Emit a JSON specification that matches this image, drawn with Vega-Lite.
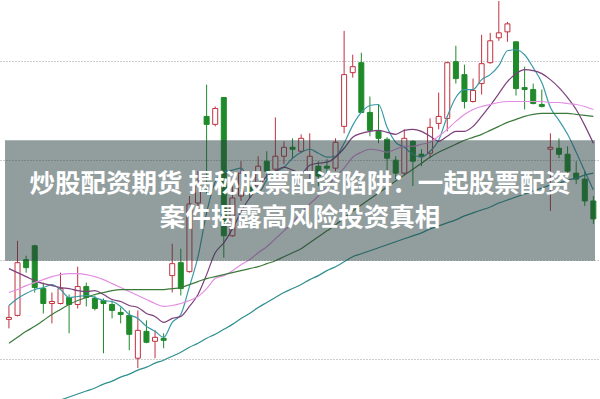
{
  "$schema": "https://vega.github.io/schema/vega-lite/v6.json",
  "width": 600,
  "height": 399,
  "padding": 0,
  "autosize": {"type": "fit", "contains": "padding"},
  "background": "white",
  "config": {"view": {"stroke": null}},
  "datasets": {
    "rows": [
      {"d":0,"o":9.40,"c":9.42,"h":9.54,"l":9.31,"ma5":9.54,"ma10":9.91,"ma20":9.67,"ma30":9.16},
      {"d":1,"o":9.44,"c":9.97,"h":10.19,"l":9.43,"ma5":9.61,"ma10":9.87,"ma20":9.70,"ma30":9.22},
      {"d":2,"o":10.00,"c":9.92,"h":10.04,"l":9.87,"ma5":9.66,"ma10":9.83,"ma20":9.74,"ma30":9.28},
      {"d":3,"o":10.14,"c":9.72,"h":10.15,"l":9.67,"ma5":9.70,"ma10":9.79,"ma20":9.77,"ma30":9.33},
      {"d":4,"o":9.71,"c":9.56,"h":9.77,"l":9.46,"ma5":9.72,"ma10":9.76,"ma20":9.80,"ma30":9.39},
      {"d":5,"o":9.56,"c":9.58,"h":9.67,"l":9.36,"ma5":9.75,"ma10":9.74,"ma20":9.83,"ma30":9.45,"ma60":8.56},
      {"d":6,"o":9.56,"c":9.71,"h":9.87,"l":9.55,"ma5":9.70,"ma10":9.72,"ma20":9.85,"ma30":9.50,"ma60":8.59},
      {"d":7,"o":9.62,"c":9.55,"h":9.65,"l":9.26,"ma5":9.62,"ma10":9.71,"ma20":9.86,"ma30":9.55,"ma60":8.62},
      {"d":8,"o":9.55,"c":9.73,"h":9.93,"l":9.51,"ma5":9.63,"ma10":9.69,"ma20":9.86,"ma30":9.59,"ma60":8.65},
      {"d":9,"o":9.73,"c":9.62,"h":9.77,"l":9.53,"ma5":9.64,"ma10":9.68,"ma20":9.85,"ma30":9.62,"ma60":8.68},
      {"d":10,"o":9.61,"c":9.51,"h":9.64,"l":9.49,"ma5":9.62,"ma10":9.69,"ma20":9.83,"ma30":9.65,"ma60":8.71},
      {"d":11,"o":9.59,"c":9.56,"h":9.61,"l":9.06,"ma5":9.59,"ma10":9.65,"ma20":9.80,"ma30":9.67,"ma60":8.75},
      {"d":12,"o":9.55,"c":9.49,"h":9.59,"l":9.41,"ma5":9.58,"ma10":9.60,"ma20":9.76,"ma30":9.69,"ma60":8.78},
      {"d":13,"o":9.47,"c":9.45,"h":9.52,"l":9.36,"ma5":9.53,"ma10":9.58,"ma20":9.72,"ma30":9.70,"ma60":8.82},
      {"d":14,"o":9.44,"c":9.25,"h":9.49,"l":9.09,"ma5":9.45,"ma10":9.54,"ma20":9.68,"ma30":9.70,"ma60":8.85},
      {"d":15,"o":9.01,"c":9.29,"h":9.49,"l":8.91,"ma5":9.41,"ma10":9.52,"ma20":9.64,"ma30":9.70,"ma60":8.89},
      {"d":16,"o":9.28,"c":9.17,"h":9.39,"l":9.16,"ma5":9.33,"ma10":9.46,"ma20":9.60,"ma30":9.70,"ma60":8.92},
      {"d":17,"o":9.18,"c":9.22,"h":9.29,"l":9.01,"ma5":9.28,"ma10":9.43,"ma20":9.56,"ma30":9.70,"ma60":8.96},
      {"d":18,"o":9.21,"c":9.19,"h":9.26,"l":9.11,"ma5":9.22,"ma10":9.37,"ma20":9.53,"ma30":9.70,"ma60":8.99},
      {"d":19,"o":9.84,"c":9.96,"h":10.16,"l":9.67,"ma5":9.37,"ma10":9.41,"ma20":9.54,"ma30":9.71,"ma60":9.03},
      {"d":20,"o":9.97,"c":9.71,"h":10.11,"l":9.64,"ma5":9.45,"ma10":9.43,"ma20":9.56,"ma30":9.72,"ma60":9.07},
      {"d":21,"o":9.88,"c":10.56,"h":10.64,"l":9.87,"ma5":9.73,"ma10":9.53,"ma20":9.59,"ma30":9.75,"ma60":9.12},
      {"d":22,"o":10.57,"c":10.74,"h":10.89,"l":10.49,"ma5":10.03,"ma10":9.65,"ma20":9.63,"ma30":9.78,"ma60":9.16},
      {"d":23,"o":11.44,"c":11.36,"h":11.76,"l":10.66,"ma5":10.47,"ma10":9.85,"ma20":9.71,"ma30":9.81,"ma60":9.21},
      {"d":24,"o":11.36,"c":11.52,"h":11.54,"l":11.34,"ma5":10.78,"ma10":10.07,"ma20":9.81,"ma30":9.83,"ma60":9.25},
      {"d":25,"o":11.63,"c":10.24,"h":11.63,"l":10.02,"ma5":10.88,"ma10":10.17,"ma20":9.84,"ma30":9.85,"ma60":9.30},
      {"d":26,"o":10.24,"c":10.62,"h":10.74,"l":10.23,"ma5":10.90,"ma10":10.31,"ma20":9.89,"ma30":9.87,"ma60":9.35},
      {"d":27,"o":10.64,"c":10.87,"h":10.99,"l":10.59,"ma5":10.92,"ma10":10.48,"ma20":9.95,"ma30":9.89,"ma60":9.41},
      {"d":28,"o":10.73,"c":10.67,"h":10.79,"l":10.61,"ma5":10.78,"ma10":10.62,"ma20":10.00,"ma30":9.91,"ma60":9.46},
      {"d":29,"o":10.74,"c":10.94,"h":11.04,"l":10.69,"ma5":10.67,"ma10":10.72,"ma20":10.07,"ma30":9.93,"ma60":9.52},
      {"d":30,"o":10.99,"c":10.89,"h":11.09,"l":10.81,"ma5":10.80,"ma10":10.84,"ma20":10.13,"ma30":9.96,"ma60":9.57},
      {"d":31,"o":10.91,"c":11.04,"h":11.43,"l":10.86,"ma5":10.88,"ma10":10.89,"ma20":10.21,"ma30":9.99,"ma60":9.62},
      {"d":32,"o":11.04,"c":11.13,"h":11.19,"l":10.96,"ma5":10.93,"ma10":10.93,"ma20":10.29,"ma30":10.03,"ma60":9.67},
      {"d":33,"o":11.13,"c":11.11,"h":11.22,"l":11.02,"ma5":11.02,"ma10":10.90,"ma20":10.37,"ma30":10.07,"ma60":9.71},
      {"d":34,"o":11.09,"c":11.22,"h":11.26,"l":11.07,"ma5":11.08,"ma10":10.87,"ma20":10.47,"ma30":10.11,"ma60":9.75},
      {"d":35,"o":10.87,"c":11.04,"h":11.27,"l":10.81,"ma5":11.11,"ma10":10.95,"ma20":10.56,"ma30":10.17,"ma60":9.80},
      {"d":36,"o":10.94,"c":10.84,"h":10.99,"l":10.74,"ma5":11.07,"ma10":10.97,"ma20":10.64,"ma30":10.23,"ma60":9.84},
      {"d":37,"o":10.94,"c":10.92,"h":11.01,"l":10.84,"ma5":11.03,"ma10":10.98,"ma20":10.73,"ma30":10.29,"ma60":9.89},
      {"d":38,"o":10.92,"c":11.18,"h":11.22,"l":10.89,"ma5":11.04,"ma10":11.03,"ma20":10.83,"ma30":10.35,"ma60":9.93},
      {"d":39,"o":11.34,"c":11.86,"h":12.30,"l":11.27,"ma5":11.17,"ma10":11.12,"ma20":10.92,"ma30":10.42,"ma60":9.98},
      {"d":40,"o":11.88,"c":11.94,"h":12.06,"l":11.83,"ma5":11.35,"ma10":11.23,"ma20":11.03,"ma30":10.49,"ma60":10.03},
      {"d":41,"o":11.98,"c":11.48,"h":12.08,"l":11.48,"ma5":11.48,"ma10":11.27,"ma20":11.08,"ma30":10.55,"ma60":10.06},
      {"d":42,"o":11.48,"c":11.30,"h":11.64,"l":11.24,"ma5":11.55,"ma10":11.29,"ma20":11.11,"ma30":10.61,"ma60":10.09},
      {"d":43,"o":11.29,"c":11.22,"h":11.56,"l":11.17,"ma5":11.56,"ma10":11.30,"ma20":11.10,"ma30":10.67,"ma60":10.12},
      {"d":44,"o":11.21,"c":11.02,"h":11.23,"l":10.89,"ma5":11.33,"ma10":11.28,"ma20":11.08,"ma30":10.73,"ma60":10.15},
      {"d":45,"o":11.00,"c":10.87,"h":11.04,"l":10.81,"ma5":11.18,"ma10":11.26,"ma20":11.11,"ma30":10.79,"ma60":10.18},
      {"d":46,"o":10.87,"c":11.22,"h":11.31,"l":10.85,"ma5":11.13,"ma10":11.30,"ma20":11.14,"ma30":10.85,"ma60":10.21},
      {"d":47,"o":11.19,"c":10.99,"h":11.20,"l":10.74,"ma5":11.06,"ma10":11.31,"ma20":11.14,"ma30":10.91,"ma60":10.24},
      {"d":48,"o":11.06,"c":11.04,"h":11.11,"l":10.94,"ma5":11.03,"ma10":11.29,"ma20":11.16,"ma30":10.97,"ma60":10.27},
      {"d":49,"o":11.07,"c":11.33,"h":11.42,"l":11.02,"ma5":11.09,"ma10":11.24,"ma20":11.18,"ma30":11.03,"ma60":10.31},
      {"d":50,"o":11.37,"c":11.44,"h":11.68,"l":11.31,"ma5":11.20,"ma10":11.19,"ma20":11.24,"ma30":11.08,"ma60":10.34},
      {"d":51,"o":11.42,"c":11.98,"h":11.99,"l":11.29,"ma5":11.44,"ma10":11.24,"ma20":11.31,"ma30":11.12,"ma60":10.37},
      {"d":52,"o":11.99,"c":11.82,"h":12.15,"l":11.77,"ma5":11.63,"ma10":11.29,"ma20":11.39,"ma30":11.16,"ma60":10.40},
      {"d":53,"o":11.86,"c":11.59,"h":11.96,"l":11.52,"ma5":11.71,"ma10":11.29,"ma20":11.46,"ma30":11.20,"ma60":10.44},
      {"d":54,"o":11.59,"c":11.70,"h":11.82,"l":11.58,"ma5":11.71,"ma10":11.34,"ma20":11.51,"ma30":11.23,"ma60":10.47},
      {"d":55,"o":11.77,"c":11.97,"h":12.26,"l":11.66,"ma5":11.81,"ma10":11.44,"ma20":11.54,"ma30":11.26,"ma60":10.50},
      {"d":56,"o":11.98,"c":12.20,"h":12.28,"l":11.97,"ma5":11.86,"ma10":11.55,"ma20":11.56,"ma30":11.30,"ma60":10.53},
      {"d":57,"o":12.23,"c":12.28,"h":12.60,"l":12.20,"ma5":11.95,"ma10":11.67,"ma20":11.58,"ma30":11.34,"ma60":10.57},
      {"d":58,"o":12.29,"c":12.37,"h":12.39,"l":12.19,"ma5":12.10,"ma10":11.79,"ma20":11.59,"ma30":11.38,"ma60":10.60},
      {"d":59,"o":12.19,"c":11.72,"h":12.19,"l":11.65,"ma5":12.11,"ma10":11.87,"ma20":11.59,"ma30":11.41,"ma60":10.63},
      {"d":60,"o":11.73,"c":11.71,"h":11.94,"l":11.51,"ma5":12.06,"ma10":11.91,"ma20":11.59,"ma30":11.44,"ma60":10.66},
      {"d":61,"o":11.71,"c":11.57,"h":11.77,"l":11.56,"ma5":11.93,"ma10":11.90,"ma20":11.59,"ma30":11.46,"ma60":10.69},
      {"d":62,"o":11.56,"c":11.54,"h":11.71,"l":11.53,"ma5":11.78,"ma10":11.87,"ma20":11.59,"ma30":11.47,"ma60":10.72},
      {"d":63,"o":11.11,"c":11.13,"h":11.27,"l":10.49,"ma5":11.53,"ma10":11.81,"ma20":11.58,"ma30":11.47,"ma60":10.75},
      {"d":64,"o":11.12,"c":11.06,"h":11.22,"l":11.02,"ma5":11.40,"ma10":11.73,"ma20":11.58,"ma30":11.47,"ma60":10.77},
      {"d":65,"o":11.06,"c":10.89,"h":11.14,"l":10.84,"ma5":11.26,"ma10":11.63,"ma20":11.57,"ma30":11.47,"ma60":10.80},
      {"d":66,"o":10.87,"c":10.81,"h":10.99,"l":10.76,"ma5":11.08,"ma10":11.51,"ma20":11.56,"ma30":11.46,"ma60":10.82},
      {"d":67,"o":10.81,"c":10.59,"h":10.89,"l":10.54,"ma5":10.89,"ma10":11.35,"ma20":11.54,"ma30":11.45,"ma60":10.85},
      {"d":68,"o":10.59,"c":10.41,"h":10.64,"l":10.36,"ma5":10.70,"ma10":11.17,"ma20":11.51,"ma30":11.44,"ma60":10.87}
    ]
  },
  "data": {"name": "rows"},
  "layer": [
    {
      "mark": {"type": "rule", "strokeWidth": 1},
      "encoding": {
        "x": {"field": "d", "type": "quantitative", "scale": {"domain": [-0.458, 68.19], "nice": false, "zero": false}, "axis": null},
        "y": {
          "field": "l", "type": "quantitative",
          "scale": {"domain": [8.60, 12.59], "nice": false, "zero": false},
          "axis": {"values": [9, 10, 11, 12], "grid": true, "gridDash": [1, 2], "gridColor": "#9a9a9a", "gridWidth": 1, "labels": false, "ticks": false, "domain": false, "title": null, "minExtent": 0, "maxExtent": 0}
        },
        "y2": {"field": "h"},
        "color": {"condition": {"test": "datum.c >= datum.o", "value": "#c0303f"}, "value": "#1f8a2a"}
      }
    },
    {
      "mark": {"type": "bar", "size": 5, "strokeWidth": 1},
      "encoding": {
        "x": {"field": "d", "type": "quantitative"},
        "y": {"field": "o", "type": "quantitative"},
        "y2": {"field": "c"},
        "fill": {"condition": {"test": "datum.c >= datum.o", "value": "#ffffff"}, "value": "#1f8a2a"},
        "stroke": {"condition": {"test": "datum.c >= datum.o", "value": "#c0303f"}, "value": "#1f8a2a"}
      }
    },
    {
      "transform": [{"fold": ["ma5", "ma10", "ma20", "ma30", "ma60"], "as": ["series", "v"]}],
      "mark": {"type": "line", "strokeWidth": 1.2, "interpolate": "monotone", "clip": true},
      "encoding": {
        "x": {"field": "d", "type": "quantitative"},
        "y": {"field": "v", "type": "quantitative"},
        "color": {
          "field": "series", "type": "nominal",
          "scale": {"domain": ["ma5", "ma10", "ma20", "ma30", "ma60"], "range": ["#3a9aa8", "#7d3f7d", "#e38ee3", "#3b7a3b", "#2f8f8f"]},
          "legend": null
        }
      }
    },
    {
      "data": {"values": [{}]},
      "mark": {"type": "rect", "fill": "#253d3d", "opacity": 0.5},
      "encoding": {
        "x": {"datum": -0.458, "type": "quantitative"},
        "x2": {"datum": 68.19},
        "y": {"datum": 11.20, "type": "quantitative"},
        "y2": {"datum": 9.99}
      }
    },
    {
      "data": {"values": [
        {"line": "炒股配资期货 揭秘股票配资陷阱：一起股票配资", "pos": 10.765},
        {"line": "案件揭露高风险投资真相", "pos": 10.42}
      ]},
      "mark": {"type": "text", "font": "Noto Sans CJK SC", "fontSize": 25.5, "fontWeight": "bold", "color": "#ffffff", "align": "center", "baseline": "middle"},
      "encoding": {
        "x": {"datum": 33.87, "type": "quantitative"},
        "y": {"field": "pos", "type": "quantitative"},
        "text": {"field": "line"}
      }
    }
  ]
}
